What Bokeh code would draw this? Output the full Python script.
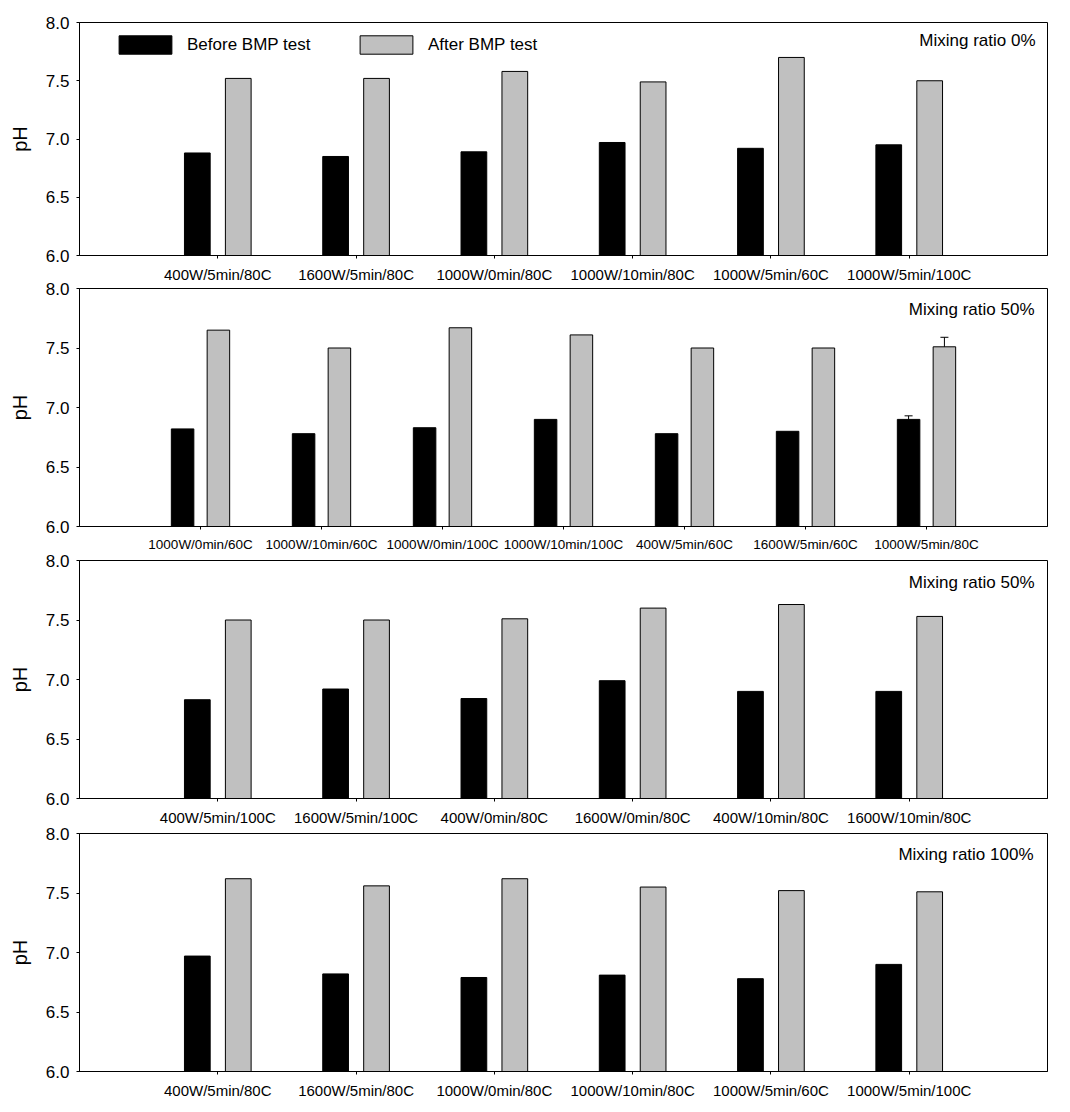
from bokeh.plotting import figure
from bokeh.models import (Range1d, FixedTicker, Label, Legend, LegendItem,
                          ColumnDataSource, Whisker, TeeHead, PrintfTickFormatter)
from bokeh.layouts import column
from bokeh.transform import dodge
from bokeh.embed import file_html
from bokeh.resources import INLINE

# ---- data -------------------------------------------------------------
cats_0 = ["400W/5min/80C", "1600W/5min/80C", "1000W/0min/80C",
          "1000W/10min/80C", "1000W/5min/60C", "1000W/5min/100C"]
before_0 = [6.88, 6.85, 6.89, 6.97, 6.92, 6.95]
after_0 = [7.52, 7.52, 7.58, 7.49, 7.70, 7.50]

cats_50a = ["1000W/0min/60C", "1000W/10min/60C", "1000W/0min/100C",
            "1000W/10min/100C", "400W/5min/60C", "1600W/5min/60C",
            "1000W/5min/80C"]
before_50a = [6.82, 6.78, 6.83, 6.90, 6.78, 6.80, 6.90]
after_50a = [7.65, 7.50, 7.67, 7.61, 7.50, 7.50, 7.51]
before_err_50a = [0, 0, 0, 0, 0, 0, 0.03]
after_err_50a = [0, 0, 0, 0, 0, 0, 0.08]

cats_50b = ["400W/5min/100C", "1600W/5min/100C", "400W/0min/80C",
            "1600W/0min/80C", "400W/10min/80C", "1600W/10min/80C"]
before_50b = [6.83, 6.92, 6.84, 6.99, 6.90, 6.90]
after_50b = [7.50, 7.50, 7.51, 7.60, 7.63, 7.53]

cats_100 = ["400W/5min/80C", "1600W/5min/80C", "1000W/0min/80C",
            "1000W/10min/80C", "1000W/5min/60C", "1000W/5min/100C"]
before_100 = [6.97, 6.82, 6.79, 6.81, 6.78, 6.90]
after_100 = [7.62, 7.56, 7.62, 7.55, 7.52, 7.51]

titles = ["Mixing ratio 0%", "Mixing ratio 50%", "Mixing ratio 50%",
          "Mixing ratio 100%"]
series_names = ["Before BMP test", "After BMP test"]
y_ticks = [6.0, 6.5, 7.0, 7.5, 8.0]
y_min, y_max = 6.0, 8.0

FONT = "Liberation Sans"
BAR_W = 0.186
OFF = 0.148
BEFORE_COLOR = "black"
AFTER_COLOR = "#c0c0c0"


def make_panel(cats, before, after, title, height, b_top, b_bottom,
               xlabel_size, title_dx, title_dy, overlap=0,
               before_err=None, after_err=None, with_legend=False):
    n = len(cats)
    xs = list(range(1, n + 1))
    src = ColumnDataSource(dict(x=xs, before=before, after=after))

    p = figure(width=1070, height=height, output_backend="svg",
               toolbar_location=None, x_range=Range1d(0, n + 1),
               y_range=Range1d(y_min, y_max),
               min_border_left=79, min_border_right=23,
               min_border_top=b_top, min_border_bottom=b_bottom,
               margin=(-overlap, 0, 0, 0))
    p.background_fill_color = "white"
    # transparent border so stacked panels can share the gap between them
    p.border_fill_color = None
    p.outline_line_color = "black"
    p.outline_line_alpha = 1.0
    p.outline_line_width = 1
    p.xgrid.visible = False
    p.ygrid.visible = False

    rb = p.vbar(x=dodge("x", -OFF), top="before", bottom=y_min, width=BAR_W,
                source=src, fill_color=BEFORE_COLOR, line_color="black",
                line_width=1)
    ra = p.vbar(x=dodge("x", OFF), top="after", bottom=y_min, width=BAR_W,
                source=src, fill_color=AFTER_COLOR, line_color="black",
                line_width=1)

    # upward error bars where a standard deviation is given
    for vals, errs, sign in ((before, before_err, -1), (after, after_err, 1)):
        if errs is None:
            continue
        ex = [x for x, e in zip(xs, errs) if e > 0]
        if not ex:
            continue
        ev = [v for v, e in zip(vals, errs) if e > 0]
        eu = [v + e for v, e in zip(vals, errs) if e > 0]
        esrc = ColumnDataSource(dict(x=ex, lower=ev, upper=eu))
        p.add_layout(Whisker(base=dodge("x", sign * OFF), lower="lower",
                             upper="upper", source=esrc, dimension="height",
                             line_color="black", line_width=1,
                             upper_head=TeeHead(size=8, line_color="black",
                                                line_width=1),
                             lower_head=None, level="annotation"))

    # axes
    xa = p.xaxis[0]
    xa.ticker = FixedTicker(ticks=xs)
    xa.major_label_overrides = {x: c for x, c in zip(xs, cats)}
    xa.major_tick_out = 3
    xa.major_tick_in = 0
    xa.minor_tick_out = 0
    xa.minor_tick_in = 0
    xa.major_label_standoff = 7
    xa.major_label_text_font = FONT
    xa.major_label_text_font_size = xlabel_size
    xa.major_label_text_color = "black"
    xa.axis_line_color = "black"

    ya = p.yaxis[0]
    ya.ticker = FixedTicker(ticks=y_ticks)
    ya.formatter = PrintfTickFormatter(format="%.1f")
    ya.major_tick_out = 3
    ya.major_tick_in = 0
    ya.minor_tick_out = 0
    ya.minor_tick_in = 0
    ya.major_label_standoff = 7
    ya.major_label_text_font = FONT
    ya.major_label_text_font_size = "17px"
    ya.major_label_text_color = "black"
    ya.axis_label = "pH"
    ya.axis_label_text_font = FONT
    ya.axis_label_text_font_size = "20px"
    ya.axis_label_text_font_style = "normal"
    ya.axis_label_text_color = "black"
    ya.axis_label_standoff = 12
    ya.axis_line_color = "black"

    p.add_layout(Label(x=n + 1, y=y_max, x_offset=title_dx, y_offset=title_dy,
                       text=title, text_align="right", text_baseline="top",
                       text_font=FONT, text_font_size="17px",
                       text_color="black"))

    if with_legend:
        legend = Legend(items=[LegendItem(label=series_names[0], renderers=[rb]),
                               LegendItem(label=series_names[1], renderers=[ra])],
                        orientation="horizontal", location=(33, 199),
                        glyph_width=66, glyph_height=23, label_standoff=9,
                        label_width=146, spacing=20, padding=0, margin=0,
                        border_line_color=None, background_fill_alpha=0,
                        label_text_font=FONT, label_text_font_size="17px",
                        label_text_color="black")
        p.add_layout(legend)
    return p


p1 = make_panel(cats_0, before_0, after_0, titles[0], 288, 22, 33, "15px",
                -12, -8, with_legend=True)
p2 = make_panel(cats_50a, before_50a, after_50a, titles[1], 283, 12, 33,
                "13.5px", -13, -11, overlap=12, before_err=before_err_50a,
                after_err=after_err_50a)
p3 = make_panel(cats_50b, before_50b, after_50b, titles[2], 286, 13, 35, "15px",
                -13, -12, overlap=12)
p4 = make_panel(cats_100, before_100, after_100, titles[3], 287, 12, 37, "15px",
                -14, -11, overlap=12)

layout = column(p1, p2, p3, p4, spacing=0)
open("out.html", "w").write(file_html(layout, INLINE))
